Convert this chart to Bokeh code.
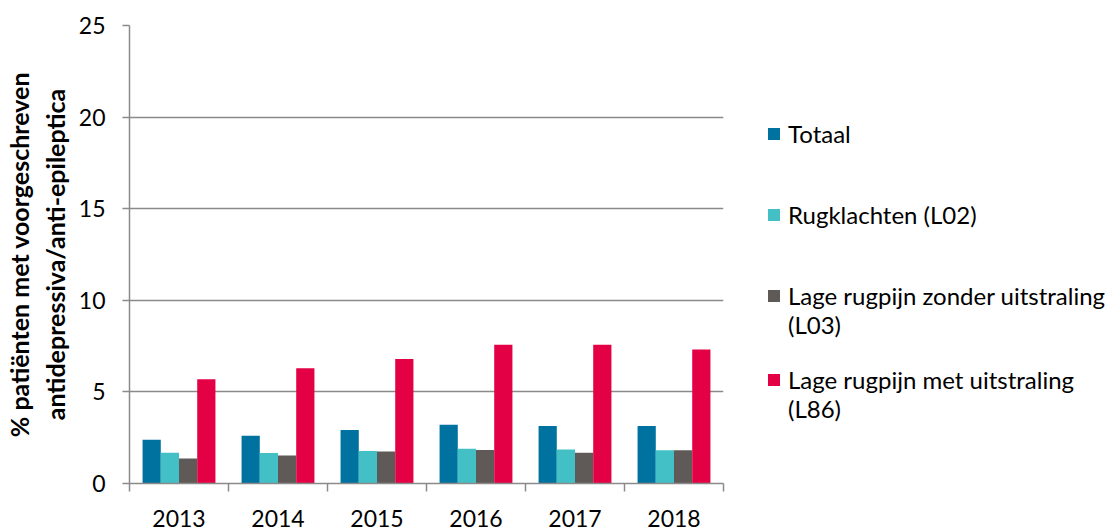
import numpy as np
from bokeh.plotting import figure
from bokeh.models import (ColumnDataSource, FixedTicker, Legend, LegendItem, Range1d)
from bokeh.transform import dodge
from bokeh.embed import file_html
from bokeh.resources import INLINE

years = ["2013", "2014", "2015", "2016", "2017", "2018"]
totaal = [2.39, 2.61, 2.92, 3.21, 3.14, 3.14]
rugklachten = [1.68, 1.66, 1.77, 1.90, 1.86, 1.81]
l03 = [1.37, 1.53, 1.75, 1.83, 1.68, 1.81]
l86 = [5.69, 6.29, 6.80, 7.57, 7.57, 7.31]

series_names = ["Totaal", "Rugklachten (L02)",
                "Lage rugpijn zonder uitstraling", "Lage rugpijn met uitstraling"]
series_codes = [None, None, "(L03)", "(L86)"]
series_keys = ["totaal", "rugklachten", "l03", "l86"]
colors = ["#00729F", "#42C0C6", "#5F5A57", "#E30045"]

FONT = "Lato"
GRID = "#8A8A8A"

x_idx = np.arange(len(years))
source = ColumnDataSource(dict(x=x_idx, totaal=totaal, rugklachten=rugklachten,
                               l03=l03, l86=l86))

p = figure(frame_width=594, frame_height=458,
           min_border_left=110, min_border_top=25, min_border_bottom=46,
           min_border_right=0,
           x_range=Range1d(-0.5, len(years) - 0.5), y_range=Range1d(0, 25),
           output_backend="svg", toolbar_location=None,
           background_fill_color="white", border_fill_color="white")
p.outline_line_color = None

bw = 0.184
offsets = [-1.5 * bw, -0.5 * bw, 0.5 * bw, 1.5 * bw]
renderers = []
for key, off, col in zip(series_keys, offsets, colors):
    r = p.vbar(x=dodge("x", off), top=key, width=bw, source=source,
               fill_color=col, line_color=None)
    renderers.append(r)

# invisible renderer used for legend spacer / continuation lines
blank = p.scatter(x=[], y=[], size=1, fill_alpha=0, line_alpha=0)

# x axis: labels at centres, ticks at category boundaries (minor ticks)
xax = p.xaxis[0]
xax.ticker = FixedTicker(ticks=list(x_idx),
                         minor_ticks=list(np.arange(len(years) + 1) - 0.5))
xax.major_label_overrides = {int(i): y for i, y in zip(x_idx, years)}
xax.major_tick_line_color = None
xax.major_tick_out = 8
xax.minor_tick_out = 8
xax.minor_tick_in = 0
xax.minor_tick_line_color = GRID
xax.minor_tick_line_width = 1.5
xax.axis_line_color = GRID
xax.axis_line_width = 1.5
xax.major_label_standoff = 18
xax.major_label_text_font = FONT
xax.major_label_text_font_size = "23px"
xax.major_label_text_color = "black"

yax = p.yaxis[0]
yax.ticker = FixedTicker(ticks=[0, 5, 10, 15, 20, 25], minor_ticks=[])
yax.major_tick_out = 7
yax.major_tick_in = 0
yax.major_tick_line_color = GRID
yax.major_tick_line_width = 1.5
yax.minor_tick_line_color = None
yax.axis_line_color = GRID
yax.axis_line_width = 1.5
yax.major_label_standoff = 17
yax.major_label_text_font = FONT
yax.major_label_text_font_size = "23px"
yax.major_label_text_color = "black"
yax.axis_label = "% patiënten met voorgeschreven\nantidepressiva/anti-epileptica"
yax.axis_label_text_font = FONT
yax.axis_label_text_font_size = "25px"
yax.axis_label_text_font_style = "bold"
yax.axis_label_text_color = "black"
yax.axis_label_standoff = 6

p.xgrid.grid_line_color = None
p.ygrid.grid_line_color = GRID
p.ygrid.grid_line_width = 1.5

# legend: rows of equal pitch; blank rows give Excel-like spacing
items = []
for i, (name, code, r) in enumerate(zip(series_names, series_codes, renderers)):
    items.append(LegendItem(label=name, renderers=[r]))
    if code is not None:
        items.append(LegendItem(label=code, renderers=[blank]))
        if i < len(series_names) - 1:
            items.append(LegendItem(label=" ", renderers=[blank]))
    else:
        items.append(LegendItem(label=" ", renderers=[blank]))
        items.append(LegendItem(label=" ", renderers=[blank]))

legend = Legend(items=items, location=(43, 60), orientation="vertical",
                glyph_width=15, glyph_height=15, label_standoff=7,
                label_height=26, spacing=0, padding=0, margin=0,
                border_line_color=None, background_fill_alpha=0,
                label_text_font=FONT, label_text_font_size="24px",
                label_text_color="black", label_text_line_height=1.05)
p.add_layout(legend, "right")

open("out.html", "w").write(file_html(p, INLINE))
